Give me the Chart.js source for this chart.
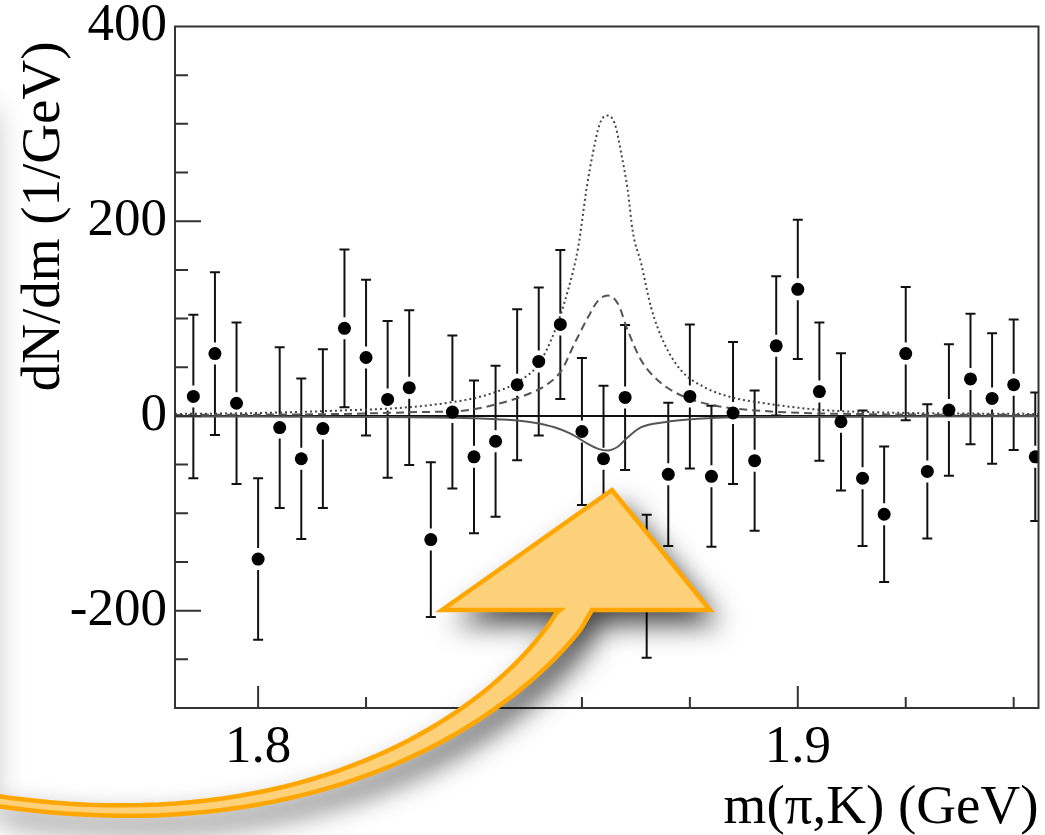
<!DOCTYPE html>
<html>
<head>
<meta charset="utf-8">
<script src="https://cdn.jsdelivr.net/npm/chart.js@4.4.1/dist/chart.umd.min.js"></script>
<style>
  html, body { margin: 0; padding: 0; background: #fff; }
  canvas { display: block; }
</style>
</head>
<body>
<canvas id="myChart" width="1045" height="835"></canvas>
<script>
// bin centres (GeV) and measured dN/dm with errors
const massBins = [1.788, 1.792, 1.796, 1.800, 1.804, 1.808, 1.812, 1.816, 1.820, 1.824,
                  1.828, 1.832, 1.836, 1.840, 1.844, 1.848, 1.852, 1.856, 1.860, 1.864,
                  1.868, 1.872, 1.876, 1.880, 1.884, 1.888, 1.892, 1.896, 1.900, 1.904,
                  1.908, 1.912, 1.916, 1.920, 1.924, 1.928, 1.932, 1.936, 1.940, 1.944];
const dNdm = [20, 64, 13, -147, -12, -44, -13, 90, 60, 17,
              29, -127, 4, -42, -26, 32, 56, 94, -16, -44,
              19, -175, -60, 20, -62, 3, -46, 72, 130, 25,
              -6, -64, -101, 64, -57, 6, 38, 18, 32, -42];
const dNdmErr = [84, 83.5, 83, 83, 82.5, 82.5, 81.5, 81, 80, 80.5,
                 79.5, 79.5, 78.5, 78.5, 77.5, 77.5, 76, 76.5, 75.5, 75,
                 74.5, 73.5, 73.5, 74, 72.5, 73, 72, 71.5, 71.5, 71,
                 70.5, 69.5, 69.5, 68.5, 69, 67.5, 67, 67, 67, 66];

// curves
const totalX = [1.7846, 1.800, 1.815, 1.828, 1.838, 1.843, 1.848, 1.852, 1.855, 1.8574,
                1.8593, 1.8609, 1.8620, 1.8633, 1.8646, 1.8661, 1.8673, 1.8685, 1.8694, 1.8710,
                1.8728, 1.8753, 1.8784, 1.8827, 1.8877, 1.8938, 1.9043, 1.9166, 1.9446];
const totalY = [2, 3, 5.5, 9, 16, 22.7, 34.6, 53.5, 87.7, 128.8,
                173, 235, 269, 300, 308.6, 300, 269, 231.5, 190, 156,
                111.7, 74, 46.6, 29.5, 19.2, 13, 6.2, 3.5, 2];
const signalX = [1.7846, 1.815, 1.830, 1.8383, 1.8444, 1.8494, 1.8537, 1.8562, 1.8586, 1.8611,
                 1.8630, 1.8648, 1.8667, 1.8685, 1.8710, 1.8741, 1.8784, 1.8846, 1.8938, 1.910, 1.9446];
const signalY = [1, 2, 4, 5.5, 12.4, 21, 33, 46.6, 74, 101,
                 118.5, 123.7, 115, 87.7, 57, 36.4, 21, 10.7, 5, 2, 1];
const interfX = [1.7846, 1.8383, 1.8444, 1.8506, 1.8549, 1.8580, 1.8611, 1.8630, 1.8648, 1.8667,
                 1.8685, 1.8710, 1.8753, 1.8815, 1.8877, 1.9446];
const interfY = [-0.5, -2, -3.4, -6.4, -11.6, -18.4, -28.7, -33.8, -35.5, -31.4,
                 -21.9, -11.6, -6.4, -3, -1.3, -0.3];

const xMajorTicks = [1.8, 1.9];
const xMinorTicks = [1.80, 1.82, 1.84, 1.86, 1.88, 1.90, 1.92, 1.94];
const yMajorTicks = [-200, 0, 200, 400];
const yMinorTicks = [-250, -200, -150, -100, -50, 0, 50, 100, 150, 200, 250, 300, 350];

const xTitle = 'm(\u03c0,K) (GeV)';
const yTitle = 'dN/dm (1/GeV)';
const serif = 'Liberation Serif';

const pts = (xs, ys) => xs.map((v, i) => ({x: v, y: ys[i]}));

const rootStyle = {
    id: 'rootStyle',
    beforeDatasetsDraw(chart) {
        const {ctx, chartArea: a, scales: {x, y}} = chart;
        ctx.save();
        ctx.beginPath();
        ctx.rect(a.left, a.top, a.right - a.left, a.bottom - a.top);
        ctx.clip();
        // zero line
        const y0 = y.getPixelForValue(0);
        ctx.strokeStyle = '#111';
        ctx.lineWidth = 2;
        ctx.beginPath();
        ctx.moveTo(a.left, y0);
        ctx.lineTo(a.right, y0);
        ctx.stroke();
        // error bars
        massBins.forEach((m, i) => {
            const px = x.getPixelForValue(m);
            const pc = y.getPixelForValue(dNdm[i]);
            const pt = y.getPixelForValue(dNdm[i] + dNdmErr[i]);
            const pb = y.getPixelForValue(dNdm[i] - dNdmErr[i]);
            const gap = 11;
            ctx.beginPath();
            if (pc - gap > pt) { ctx.moveTo(px, pt); ctx.lineTo(px, pc - gap); }
            if (pc + gap < pb) { ctx.moveTo(px, pc + gap); ctx.lineTo(px, pb); }
            ctx.moveTo(px - 5, pt); ctx.lineTo(px + 5, pt);
            ctx.moveTo(px - 5, pb); ctx.lineTo(px + 5, pb);
            ctx.stroke();
        });
        ctx.restore();
    },
    afterDatasetsDraw(chart) {
        const {ctx, chartArea: a, scales: {x, y}} = chart;
        ctx.save();
        ctx.strokeStyle = '#333';
        ctx.lineWidth = 2;
        ctx.strokeRect(a.left, a.top, a.right - a.left, a.bottom - a.top);
        ctx.beginPath();
        xMinorTicks.forEach(v => {
            const p = x.getPixelForValue(v);
            const len = xMajorTicks.some(t => Math.abs(t - v) < 1e-6) ? 22 : 11;
            ctx.moveTo(p, a.bottom);
            ctx.lineTo(p, a.bottom - len);
        });
        yMinorTicks.forEach(v => {
            const p = y.getPixelForValue(v);
            const len = yMajorTicks.includes(v) ? 26 : 13;
            ctx.moveTo(a.left, p);
            ctx.lineTo(a.left + len, p);
        });
        ctx.stroke();

        // y title, right-aligned to the top like ROOT does
        ctx.translate(59, a.top + 15);
        ctx.rotate(-Math.PI / 2);
        ctx.font = '55px "' + serif + '"';
        ctx.fillStyle = '#000';
        ctx.textAlign = 'right';
        ctx.textBaseline = 'alphabetic';
        ctx.fillText(yTitle, 0, 0);
        ctx.restore();
    },
    afterDraw(chart) {
        const ctx = chart.ctx;
        ctx.save();
        // soft shadow along the left edge
        ctx.shadowColor = 'rgba(0,0,0,0.22)';
        ctx.shadowBlur = 28;
        ctx.shadowOffsetX = 3000;
        ctx.fillStyle = '#000';
        ctx.fillRect(-3000 - 80, 110, 78, 700);
        ctx.restore();

        // curved arrow
        const P0 = [576, 610], P1 = [520, 700], P2 = [330, 852], P3 = [-10, 800];
        const bz = t => {
            const u = 1 - t;
            return [u*u*u*P0[0] + 3*u*u*t*P1[0] + 3*u*t*t*P2[0] + t*t*t*P3[0],
                    u*u*u*P0[1] + 3*u*u*t*P1[1] + 3*u*t*t*P2[1] + t*t*t*P3[1]];
        };
        const lower = [], upper = [];
        for (let t = 0.04; t <= 1.0001; t += 0.02) {
            const c = bz(t), c2 = bz(Math.min(t + 0.005, 1)), c1 = bz(t - 0.005);
            const dx = c2[0] - c1[0], dy = c2[1] - c1[1];
            const len = Math.hypot(dx, dy);
            const nx = dy / len, ny = -dx / len;
            const w = (10 + 21 * (1 - t) * (1 - t)) / 2;
            lower.push([c[0] + nx * w, c[1] + ny * w]);
            upper.push([c[0] - nx * w, c[1] - ny * w]);
        }
        const path = () => {
            ctx.beginPath();
            ctx.moveTo(442, 610);
            ctx.lineTo(612, 490);
            ctx.lineTo(710, 610);
            ctx.lineTo(592, 610);
            lower.forEach(p => ctx.lineTo(p[0], p[1]));
            for (let i = upper.length - 1; i >= 0; i--) ctx.lineTo(upper[i][0], upper[i][1]);
            ctx.lineTo(560, 610);
            ctx.closePath();
        };
        ctx.save();
        ctx.shadowColor = 'rgba(0,0,0,0.75)';
        ctx.shadowBlur = 28;
        ctx.shadowOffsetX = 10;
        ctx.shadowOffsetY = 14;
        ctx.fillStyle = '#FDD17A';
        path();
        ctx.fill();
        ctx.restore();
        ctx.save();
        ctx.fillStyle = '#FDD17A';
        ctx.strokeStyle = '#FFA600';
        ctx.lineWidth = 4.5;
        ctx.lineJoin = 'miter';
        path();
        ctx.fill();
        ctx.stroke();
        ctx.restore();
    }
};

const ctx = document.getElementById('myChart');

new Chart(ctx, {
    type: 'scatter',
    data: {
        datasets: [{
            label: 'data',
            data: pts(massBins, dNdm),
            pointRadius: 6.5,
            pointHoverRadius: 6.5,
            backgroundColor: '#000',
            borderWidth: 0
        }, {
            label: 'total',
            data: pts(totalX, totalY),
            showLine: true,
            borderColor: '#444',
            borderWidth: 2,
            borderDash: [2, 3],
            pointRadius: 0,
            cubicInterpolationMode: 'monotone'
        }, {
            label: 'signal',
            data: pts(signalX, signalY),
            showLine: true,
            borderColor: '#555',
            borderWidth: 2,
            borderDash: [8, 5],
            pointRadius: 0,
            cubicInterpolationMode: 'monotone'
        }, {
            label: 'interference',
            data: pts(interfX, interfY),
            showLine: true,
            borderColor: '#555',
            borderWidth: 2,
            pointRadius: 0,
            cubicInterpolationMode: 'monotone'
        }]
    },
    options: {
        responsive: false,
        animation: false,
        events: [],
        layout: { padding: { top: 26.5, right: 6, left: 0, bottom: 0 } },
        plugins: { legend: { display: false }, tooltip: { enabled: false } },
        scales: {
            x: {
                type: 'linear',
                min: 1.7846,
                max: 1.9446,
                grid: { display: false },
                border: { display: false },
                afterBuildTicks: s => { s.ticks = xMajorTicks.map(v => ({ value: v })); },
                afterFit: s => { s.height = 127; s.paddingLeft = 0; s.paddingRight = 0; },
                ticks: {
                    font: { family: serif, size: 53 },
                    color: '#000',
                    padding: 0,
                    maxRotation: 0,
                    autoSkip: false,
                    callback: v => v.toFixed(1)
                },
                title: {
                    display: true,
                    text: xTitle,
                    align: 'end',
                    color: '#000',
                    font: { family: serif, size: 55 },
                    padding: { top: 0, bottom: -7 }
                }
            },
            y: {
                type: 'linear',
                min: -300,
                max: 400,
                grid: { display: false },
                border: { display: false },
                afterBuildTicks: s => { s.ticks = yMajorTicks.map(v => ({ value: v })); },
                afterFit: s => { s.width = 175; s.paddingTop = 0; s.paddingBottom = 0; },
                ticks: {
                    font: { family: serif, size: 53 },
                    color: '#000',
                    padding: 0,
                    callback: v => String(v)
                }
            }
        }
    },
    plugins: [rootStyle]
});
</script>
</body>
</html>
